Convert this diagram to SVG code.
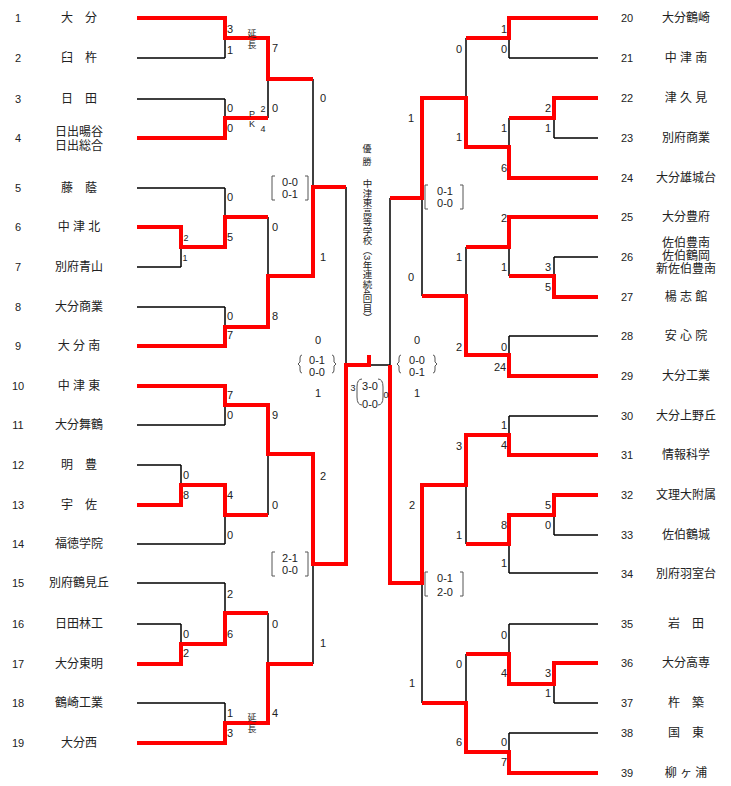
<svg xmlns="http://www.w3.org/2000/svg" width="731" height="786" viewBox="0 0 731 786">
<style>
text{font-family:"Liberation Sans","Noto Sans CJK JP",sans-serif;fill:#222}
.n{font-size:11px;text-anchor:middle}
.t{font-size:12px;text-anchor:middle}
.s{font-size:11px;text-anchor:middle}
.xs{font-size:9px;text-anchor:middle}
.k{fill:none;stroke:#000;stroke-width:1.5}
.r{fill:none;stroke:#f00;stroke-width:4;stroke-linejoin:miter}
.b{fill:none;stroke:#555;stroke-width:1}
</style>
<g id="connectors">
<path class="k" d="M137 18H225M137 58H225M137 99H225M137 138H225M137 188H225M137 227H181M137 267H181M137 307H225M137 346H225M137 386H225M137 425H225M137 465H181M137 505H181M137 544H225M137 583H225M137 624H181M137 664H181M137 703H225M137 743H225
M225 18V58M225 99V138M225 188V247M225 307V346M225 386V425M225 485V544M225 583V644M225 703V743M181 227V267M181 465V505M181 624V664
M181 247H225M181 485H225M181 644H225M225 38H268M225 118H268M225 217H268M225 327H268M225 405H268M225 515H268M225 613H268M225 723H268
M268 38V118M268 217V327M268 405V515M268 613V723M268 79H313M268 276H313M268 454H313M268 664H313M313 79V276M313 454V664M313 187H346M313 564H346M346 187V564M346 365H390M369 357V365"/>
<path class="k" d="M598 18H509M598 58H509M598 98H554M598 138H554M598 178H509M598 217H509M598 257H554M598 297H554M598 336H509M598 376H509M598 416H509M598 455H509M598 495H554M598 535H554M598 573H509M598 624H509M598 663H554M598 703H554M598 733H509M598 773H509
M554 98V138M554 257V297M554 495V535M554 663V703M554 118H509M554 276H509M554 515H509M554 684H509
M509 18V58M509 118V178M509 217V276M509 336V376M509 416V455M509 515V573M509 624V684M509 733V773
M509 38H466M509 147H466M509 247H466M509 355H466M509 435H466M509 544H466M509 654H466M509 752H466
M466 38V147M466 247V355M466 435V544M466 654V752M466 98H422M466 296H422M466 485H422M466 703H422M422 98V296M422 485V703M422 198H390M422 583H390M390 198V583"/>
<path class="r" d="M137 18H225V38H268V79H313M137 138H225V118H268M137 227H181V247H225V217H268M137 346H225V327H268V276H313V187H346M137 386H225V405H268V454H313V564H346V365H369V355M137 505H181V485H225V515H268M137 664H181V644H225V613H268M137 743H225V723H268V664H313"/>
<path class="r" d="M598 18H509V38H466M598 98H554V118H509M598 178H509V147H466V98H422V198H390M598 217H509V247H466M598 297H554V276H509M598 376H509V355H466V296H422M598 455H509V435H466V485H422V583H390V365M598 495H554V515H509V544H466M598 663H554V684H509V654H466M598 773H509V752H466V703H422"/>
</g>
<g id="left-teams">
<text class="n" x="18" y="22">1</text><text class="t" x="79" y="22">大　分</text>
<text class="n" x="18" y="62">2</text><text class="t" x="79" y="62">臼　杵</text>
<text class="n" x="18" y="103">3</text><text class="t" x="79" y="103">日　田</text>
<text class="n" x="18" y="142">4</text><text class="t" x="79" y="136">日出暘谷</text><text class="t" x="79" y="150">日出総合</text>
<text class="n" x="18" y="192">5</text><text class="t" x="79" y="192">藤　蔭</text>
<text class="n" x="18" y="231">6</text><text class="t" x="79" y="231">中 津 北</text>
<text class="n" x="18" y="271">7</text><text class="t" x="79" y="271">別府青山</text>
<text class="n" x="18" y="311">8</text><text class="t" x="79" y="311">大分商業</text>
<text class="n" x="18" y="350">9</text><text class="t" x="79" y="350">大 分 南</text>
<text class="n" x="18" y="390">10</text><text class="t" x="79" y="390">中 津 東</text>
<text class="n" x="18" y="429">11</text><text class="t" x="79" y="429">大分舞鶴</text>
<text class="n" x="18" y="469">12</text><text class="t" x="79" y="469">明　豊</text>
<text class="n" x="18" y="509">13</text><text class="t" x="79" y="509">宇　佐</text>
<text class="n" x="18" y="548">14</text><text class="t" x="79" y="548">福徳学院</text>
<text class="n" x="18" y="587">15</text><text class="t" x="79" y="587">別府鶴見丘</text>
<text class="n" x="18" y="628">16</text><text class="t" x="79" y="628">日田林工</text>
<text class="n" x="18" y="668">17</text><text class="t" x="79" y="668">大分東明</text>
<text class="n" x="18" y="707">18</text><text class="t" x="79" y="707">鶴崎工業</text>
<text class="n" x="18" y="747">19</text><text class="t" x="79" y="747">大分西</text>
</g>
<g id="right-teams">
<text class="n" x="627" y="22">20</text><text class="t" x="686" y="22">大分鶴崎</text>
<text class="n" x="627" y="62">21</text><text class="t" x="686" y="62">中 津 南</text>
<text class="n" x="627" y="102">22</text><text class="t" x="686" y="102">津 久 見</text>
<text class="n" x="627" y="142">23</text><text class="t" x="686" y="142">別府商業</text>
<text class="n" x="627" y="182">24</text><text class="t" x="686" y="182">大分雄城台</text>
<text class="n" x="627" y="221">25</text><text class="t" x="686" y="221">大分豊府</text>
<text class="n" x="627" y="261">26</text><text class="t" x="686" y="247">佐伯豊南</text><text class="t" x="686" y="260">佐伯鶴岡</text><text class="t" x="686" y="273">新佐伯豊南</text>
<text class="n" x="627" y="301">27</text><text class="t" x="686" y="301">楊 志 館</text>
<text class="n" x="627" y="340">28</text><text class="t" x="686" y="340">安 心 院</text>
<text class="n" x="627" y="380">29</text><text class="t" x="686" y="380">大分工業</text>
<text class="n" x="627" y="420">30</text><text class="t" x="686" y="420">大分上野丘</text>
<text class="n" x="627" y="459">31</text><text class="t" x="686" y="459">情報科学</text>
<text class="n" x="627" y="499">32</text><text class="t" x="686" y="499">文理大附属</text>
<text class="n" x="627" y="539">33</text><text class="t" x="686" y="539">佐伯鶴城</text>
<text class="n" x="627" y="578">34</text><text class="t" x="686" y="578">別府羽室台</text>
<text class="n" x="627" y="628">35</text><text class="t" x="686" y="628">岩　田</text>
<text class="n" x="627" y="667">36</text><text class="t" x="686" y="667">大分高専</text>
<text class="n" x="627" y="707">37</text><text class="t" x="686" y="707">杵　築</text>
<text class="n" x="627" y="737">38</text><text class="t" x="686" y="737">国　東</text>
<text class="n" x="627" y="777">39</text><text class="t" x="686" y="777">柳 ヶ 浦</text>
</g>
<g id="left-scores">
<text class="s" x="230" y="33">3</text><text class="s" x="230" y="54">1</text>
<text class="xs" x="252" y="37">延</text><text class="xs" x="252" y="48">長</text>
<text class="s" x="275" y="52">7</text>
<text class="s" x="230" y="112">0</text><text class="s" x="230" y="132">0</text>
<text class="xs" x="252" y="117">P</text><text class="xs" x="252" y="127">K</text>
<text class="xs" x="263" y="112">2</text><text class="xs" x="263" y="132">4</text>
<text class="s" x="275" y="112">0</text>
<text class="s" x="323" y="102">0</text>
<text class="s" x="230" y="201">0</text><text class="xs" x="186" y="241">2</text><text class="xs" x="185" y="261">1</text>
<text class="s" x="230" y="241">5</text><text class="s" x="275" y="231">0</text>
<text class="s" x="323" y="261">1</text>
<text class="s" x="230" y="320">0</text><text class="s" x="230" y="339">7</text><text class="s" x="275" y="320">8</text>
<text class="s" x="230" y="399">7</text><text class="s" x="230" y="419">0</text><text class="s" x="275" y="419">9</text>
<text class="s" x="186" y="479">0</text><text class="s" x="186" y="499">8</text>
<text class="s" x="230" y="499">4</text><text class="s" x="230" y="539">0</text><text class="s" x="275" y="509">0</text>
<text class="s" x="323" y="480">2</text>
<text class="s" x="230" y="598">2</text><text class="s" x="186" y="638">0</text><text class="s" x="186" y="657">2</text>
<text class="s" x="230" y="638">6</text><text class="s" x="275" y="628">0</text>
<text class="s" x="323" y="647">1</text>
<text class="s" x="230" y="717">1</text><text class="s" x="230" y="737">3</text>
<text class="xs" x="252" y="721">延</text><text class="xs" x="252" y="732">長</text>
<text class="s" x="275" y="717">4</text>
</g>
<g id="right-scores">
<text class="s" x="504" y="33">1</text><text class="s" x="504" y="53">0</text><text class="s" x="459" y="53">0</text>
<text class="s" x="548" y="112">2</text><text class="s" x="548" y="132">1</text><text class="s" x="504" y="132">1</text>
<text class="s" x="504" y="172">6</text><text class="s" x="459" y="141">1</text><text class="s" x="411" y="122">1</text>
<text class="s" x="504" y="222">2</text><text class="s" x="459" y="261">1</text><text class="s" x="504" y="271">1</text>
<text class="s" x="548" y="271">3</text><text class="s" x="548" y="291">5</text>
<text class="s" x="411" y="281">0</text>
<text class="s" x="459" y="351">2</text><text class="s" x="504" y="351">0</text><text class="s" x="500" y="371">24</text>
<text class="s" x="504" y="429">1</text><text class="s" x="504" y="449">4</text><text class="s" x="459" y="450">3</text>
<text class="s" x="412" y="509">2</text><text class="s" x="548" y="509">5</text><text class="s" x="548" y="529">0</text>
<text class="s" x="504" y="529">8</text><text class="s" x="459" y="539">1</text><text class="s" x="504" y="567">1</text>
<text class="s" x="504" y="639">0</text><text class="s" x="459" y="668">0</text><text class="s" x="504" y="677">4</text>
<text class="s" x="548" y="677">3</text><text class="s" x="548" y="697">1</text><text class="s" x="412" y="687">1</text>
<text class="s" x="459" y="746">6</text><text class="s" x="504" y="746">0</text><text class="s" x="504" y="766">7</text>
</g>
<g id="semi-scores">
<path class="b" d="M275 176h-3v24h3M305 176h3v24h-3"/>
<text class="s" x="290" y="186">0-0</text><text class="s" x="290" y="198">0-1</text>
<path class="b" d="M428 185h-3v24h3M460 185h3v24h-3"/>
<text class="s" x="445" y="195">0-1</text><text class="s" x="445" y="207">0-0</text>
<path class="b" d="M275 552h-3v24h3M305 552h3v24h-3"/>
<text class="s" x="290" y="562">2-1</text><text class="s" x="290" y="574">0-0</text>
<path class="b" d="M428 572h-3v24h3M460 572h3v24h-3"/>
<text class="s" x="445" y="582">0-1</text><text class="s" x="445" y="596">2-0</text>
<text class="s" x="318" y="344">0</text>
<path class="b" d="M302 355q-2 0-2 3v4l-2 2 2 2v4q0 3 2 3M332 355q2 0 2 3v4l2 2-2 2v4q0 3-2 3"/>
<text class="s" x="317" y="364">0-1</text><text class="s" x="317" y="376">0-0</text>
<text class="s" x="318" y="397">1</text>
<text class="s" x="417" y="344">0</text>
<path class="b" d="M401 355q-2 0-2 3v4l-2 2 2 2v4q0 3 2 3M433 355q2 0 2 3v4l2 2-2 2v4q0 3-2 3"/>
<text class="s" x="417" y="364">0-0</text><text class="s" x="417" y="376">0-1</text>
<text class="s" x="417" y="397">1</text>
</g>
<g id="final">
<text class="xs" x="353" y="391">3</text>
<path class="b" d="M362 379q-5 0-5 8v10q0 8 5 8M378 379q5 0 5 8v10q0 8-5 8"/>
<text class="s" x="370" y="390">3-0</text><text class="s" x="370" y="408">0-0</text>
<text class="xs" x="386" y="398">0</text>
</g>
<g id="champion">
<text class="xs" x="367" y="152">優</text><text class="xs" x="367" y="165">勝</text>
<text style="font-size:9.5px;writing-mode:vertical-rl" x="367" y="179">中津東高等学校（3年連続4回目）</text>
</g>
</svg>
